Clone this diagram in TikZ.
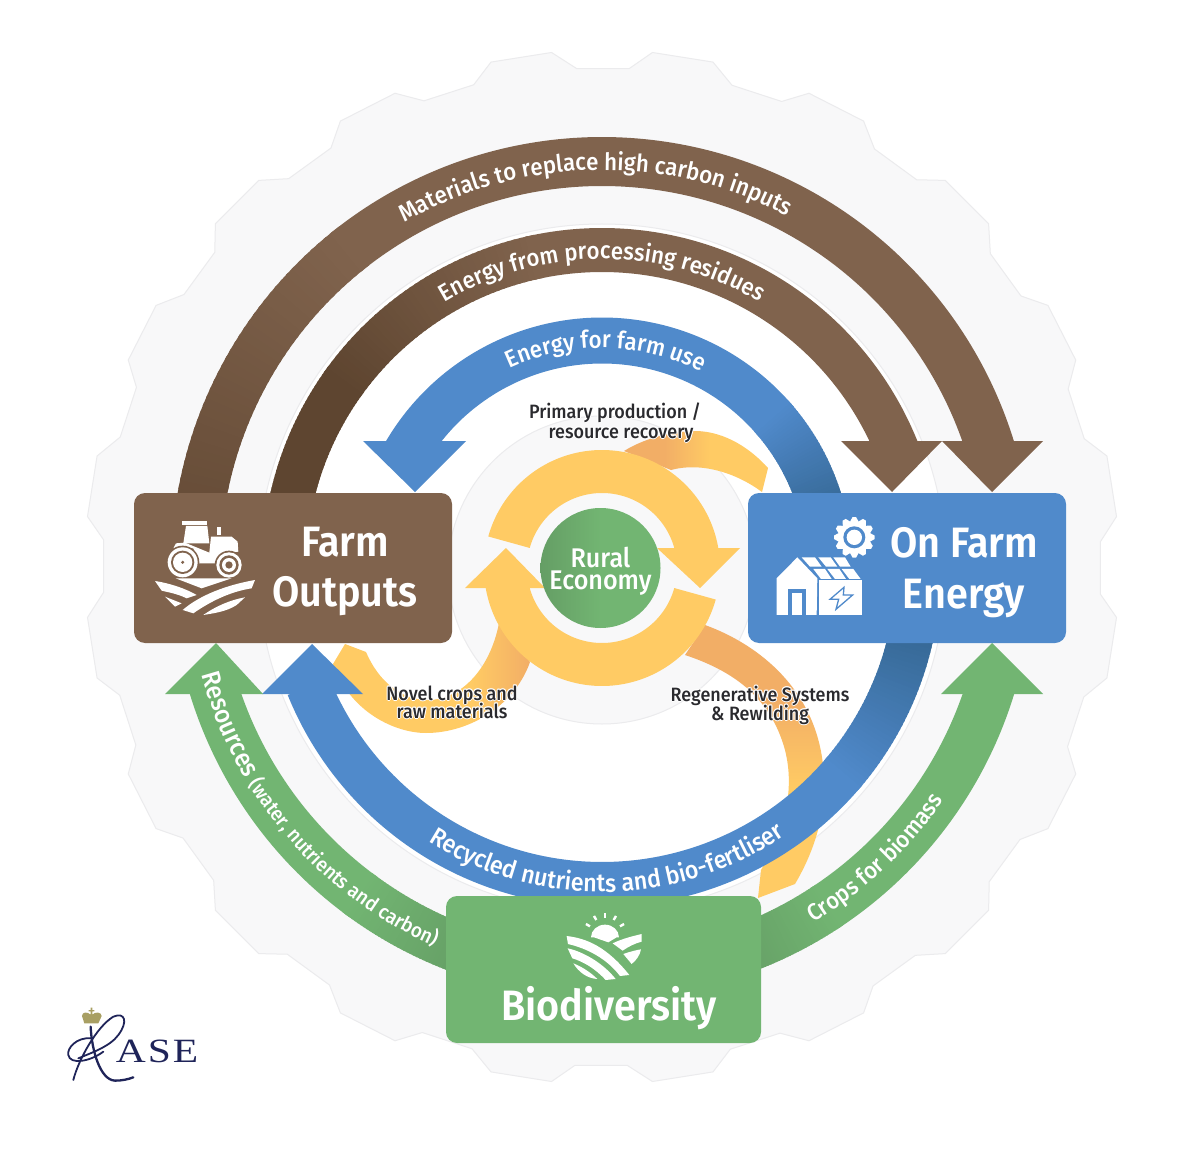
\documentclass[tikz,border=0pt]{standalone}
\usepackage{fontspec}
\usetikzlibrary{decorations.text}
\setmainfont{Fira Sans}
\newfontfamily\dinm{Fira Sans}[UprightFont=* Medium,FakeStretch=0.93]
\newfontfamily\dinb{Fira Sans}[UprightFont=* SemiBold,FakeStretch=0.93]
\newfontfamily\serifl{Liberation Serif}[FakeStretch=1.22,LetterSpace=6]
\definecolor{brownM}{HTML}{80634D}
\definecolor{brownD}{HTML}{5E4530}
\definecolor{brownE}{HTML}{664C37}
\definecolor{blueM}{HTML}{508ACB}
\definecolor{blueD}{HTML}{33648F}
\definecolor{greenM}{HTML}{72B572}
\definecolor{greenD}{HTML}{659E65}
\definecolor{yel}{HTML}{FFCB64}
\definecolor{ora}{HTML}{F2AE66}
\definecolor{gearF}{HTML}{F8F8F9}
\definecolor{gearL}{HTML}{EBEBED}
\definecolor{ink}{HTML}{2A2A2E}
\definecolor{navy}{HTML}{1F2459}
\definecolor{gold}{HTML}{A89F63}
\pgfdeclarehorizontalshading{linkTop}{100bp}{color(0bp)=(ora); color(39bp)=(ora); color(55bp)=(yel); color(100bp)=(yel)}
\pgfdeclarehorizontalshading{linkNovel}{100bp}{color(0bp)=(yel); color(60bp)=(yel); color(75bp)=(ora); color(100bp)=(ora)}
\pgfdeclareverticalshading{linkRegen}{100bp}{color(0bp)=(yel); color(45bp)=(yel); color(61bp)=(ora); color(100bp)=(ora)}
\pgfdeclarehorizontalshading{ruralS}{100bp}{color(0bp)=(greenD); color(25bp)=(greenD); color(50bp)=(greenM); color(100bp)=(greenM)}
\newcommand\Cx{602}
\newcommand\Cy{568}
% flat ring band
\newcommand\bandflat[5]{\fill[#5] plot[domain=#3:#4,samples=120] ({\Cx+#2*cos(\x)},{\Cy+#2*sin(\x)}) -- plot[domain=#4:#3,samples=120] ({\Cx+#1*cos(\x)},{\Cy+#1*sin(\x)}) -- cycle;}
% ring band with an angular colour blend
\newcommand\bandblend[6]{%
  \foreach \i in {0,...,39}{%
    \pgfmathsetmacro\pc{100*\i/39}%
    \pgfmathsetmacro\ta{#3+(#4-#3)*\i/40}%
    \pgfmathsetmacro\tb{#3+(#4-#3)*(\i+1.4)/40}%
    \fill[#6!\pc!#5] ({\Cx+#2*cos(\ta)},{\Cy+#2*sin(\ta)}) -- ({\Cx+#2*cos(\tb)},{\Cy+#2*sin(\tb)}) -- ({\Cx+#1*cos(\tb)},{\Cy+#1*sin(\tb)}) -- ({\Cx+#1*cos(\ta)},{\Cy+#1*sin(\ta)}) -- cycle;
  }}
% text on a circle of radius #1 from angle #2 to #3
\newcommand\arctext[4]{\path[decorate,decoration={text along path,text align=center,text={#4}}] plot[domain=#2:#3,samples=100] ({\Cx+#1*cos(\x)},{\Cy+#1*sin(\x)});}
\newcommand\fA{\dinm\fontsize{24}{24}\selectfont\color{white}}
\newcommand\fB{\dinm\fontsize{23.9}{24}\selectfont\color{white}}
\newcommand\fBB{\dinm\fontsize{24}{24}\selectfont\color{white}}
\newcommand\fR{\dinm\fontsize{25}{25}\selectfont\color{white}}
\newcommand\fS{\dinm\fontsize{26}{26}\selectfont\color{white}}
\newcommand\fC{\dinm\fontsize{20.2}{21}\selectfont\color{white}}
\newcommand\fE{\dinm\fontsize{23.5}{23}\selectfont\color{white}}
\tikzset{
  boxnode/.style={rounded corners=11pt,inner sep=0pt,outer sep=0pt,anchor=north west},
  title/.style={text=white,font=\dinb\fontsize{42.5}{42}\selectfont,inner sep=0pt,anchor=base},
  lbl/.style={font=\dinm\fontsize{19.3}{19}\selectfont,inner sep=0pt,anchor=base},
  icon/.style={fill=white,draw=none}
}
\newcommand\halo[4]{%
  \foreach \dx/\dy in {1/0,-1/0,0/1,0/-1,.7/.7,-.7/.7,.7/-.7,-.7/-.7}{%
    \node[lbl,text=white,xshift=\dx pt,yshift=\dy pt] at (#2,#3) {#4};}%
  \node[lbl,text=ink] (#1) at (#2,#3) {#4};}
\begin{document}
\begin{tikzpicture}[x=1pt,y=-1pt]
\useasboundingbox (0,0) rectangle (1200,1150);
\fill[white] (0,0) rectangle (1200,1150);
% scalloped background
\filldraw[fill=gearF,draw=gearL,line width=1pt]
  ({602+517*cos(246.4)},{567+517*sin(246.4)})
  \foreach \k in {0,-18,...,-342}{
    -- ({602+517*cos(246.4+\k)},{567+517*sin(246.4+\k)})
    -- ({602+517*cos(239.6+\k)},{567+517*sin(239.6+\k)})
    -- ({602+499*cos(237.1+\k)},{567+499*sin(237.1+\k)})
    -- ({602+499*cos(231.1+\k)},{567+499*sin(231.1+\k)})
  } -- cycle;
\filldraw[fill=white,draw=gearL,line width=1pt] (602,568) circle (344);
\filldraw[fill=gearF,draw=gearL,line width=1pt] (602,570) circle (154);
% linking bands
\shade[shading=linkTop] (624,451) .. controls (650,435) and (680,431) .. (697,431) .. controls (725,432) and (750,448) .. (768,468) -- (762,492) .. controls (735,472) and (700,462) .. (671,470) -- cycle;
\shade[shading=linkNovel] (345,644) -- (333,664) .. controls (350,712) and (395,733) .. (426,733) .. controls (470,733) and (515,705) .. (530,662) -- (499,623) .. controls (490,670) and (460,700) .. (428,700) .. controls (400,700) and (378,680) .. (366,652) -- cycle;
\shade[shading=linkRegen] (705,625) .. controls (760,645) and (815,690) .. (823,765) .. controls (828,810) and (815,850) .. (795,884) -- (758,898) -- (761,870) .. controls (785,830) and (795,790) .. (785,750) .. controls (770,695) and (730,670) .. (685,655) -- cycle;
% central yellow loop
\bandflat{75}{118}{195.5}{352}{yel}
\fill[yel] (657,548) -- (740,548) -- (700,588) -- cycle;
\bandflat{75}{118}{15.5}{172}{yel}
\fill[yel] (465,588) -- (545,588) -- (506,548) -- cycle;
% blue arrows
\bandflat{204.5}{250.5}{210.5}{320}{blueM}
\bandblend{204.5}{250.5}{318}{350}{blueM}{blueD}
\fill[blueM] (363,441) -- (466,441) -- (415,492) -- cycle;
\bandflat{294}{339}{40}{158}{blueM}
\bandblend{294}{339}{41}{8}{blueM}{blueD}
\fill[blueM] (262,694) -- (363,694) -- (312,644) -- cycle;
% brown arrows
\bandblend{382}{431}{186}{232}{brownE}{brownM}
\bandflat{382}{431}{231}{344}{brownM}
\fill[brownM] (942,441) -- (1043,441) -- (992,492) -- cycle;
\bandblend{296}{340}{186}{216}{brownD}{brownD}
\bandblend{296}{340}{215}{258}{brownD}{brownM}
\bandflat{296}{340}{257}{339}{brownM}
\fill[brownM] (841,441) -- (942,441) -- (892,492) -- cycle;
% green arrows
\bandflat{382}{431}{126}{164}{greenM}
\bandblend{382}{431}{127}{108}{greenM}{greenD}
\fill[greenM] (165,694) -- (263,694) -- (216,643) -- cycle;
\bandflat{382}{431}{16}{57}{greenM}
\bandblend{382}{431}{56}{72}{greenM}{greenD}
\fill[greenM] (941,694) -- (1043,694) -- (992,643) -- cycle;
% curved labels
\arctext{398}{224}{314}{|\fA|Materials to replace high carbon inputs}
\arctext{309}{225}{315}{|\fB|Energy from processing residues}
\arctext{220}{226}{316}{|\fBB|Energy for farm use}
\arctext{324}{134}{44}{|\fR|Recycled nutrients and bio-fertliser}
\arctext{414}{179.5}{99.5}{|\fS|Resources ||{}|\fC|(water, nutrients and carbon)}
\arctext{413}{84.2}{9.2}{|\fE|Crops for biomass}
% boxes
\node[boxnode,fill=brownM,minimum width=318pt,minimum height=150pt] (farm) at (134,493) {};
\node[boxnode,fill=blueM,minimum width=318pt,minimum height=150pt] (energy) at (748,493) {};
\node[boxnode,fill=greenM,minimum width=315pt,minimum height=147pt] (biodiv) at (446,896) {};
\shade[shading=ruralS] (600.5,568) circle (60);
\node[inner sep=0pt,anchor=base] (rural) at (600.5,567) {\dinm\fontsize{27}{27}\selectfont\color{white}Rural};
\node[inner sep=0pt,anchor=base] (economy) at (600.5,589) {\dinm\fontsize{27}{27}\selectfont\color{white}Economy};
\node[title] (farmA) at (345,556) {Farm};
\node[title] (farmB) at (345,606) {Outputs};
\node[title] (enerA) at (964,557) {On Farm};
\node[title] (enerB) at (964,608) {Energy};
\node[title] (bio) at (609,1020) {Biodiversity};
\halo{lblA}{615}{418}{Primary production /}
\halo{lblB}{621}{438}{resource recovery}
\halo{lblC}{452}{700}{Novel crops and}
\halo{lblD}{452}{718}{raw materials}
\halo{lblE}{760}{701}{Regenerative Systems}
\halo{lblF}{760}{720}{\& Rewilding}
% tractor icon
\begin{scope}[shift={(130pt,-480pt)},x=.3333pt,y=-.3333pt]
\fill[icon] (157,123) rectangle (232,134);
\fill[icon] (168,138) -- (232,138) -- (238,190) -- (160,190) -- cycle;
\fill[icon] (262,140) rectangle (272,165);
\fill[icon] (138,190) -- (165,188) -- (238,218) -- (243,170) -- (305,170) -- (323,185) -- (325,215) -- (280,222) -- (255,250) -- (205,250) -- (190,205) -- (130,205) -- cycle;
\foreach \wx/\wy/\wa/\wb/\wc/\wd in {158/247/45/35/29/5,297/255/38/29/21/11}{
  \fill[brownM] (\wx,\wy) circle (\wa+5);
  \fill[white] (\wx,\wy) circle (\wa);
  \fill[brownM] (\wx,\wy) circle (\wb);
  \fill[white] (\wx,\wy) circle (\wc);
  \fill[brownM] (\wx,\wy) circle (\wd);
}
\fill[icon] (137,295) -- (305,295) -- (215,325) -- cycle;
\fill[icon] (75,303) .. controls (120,310) and (165,325) .. (200,345) -- (170,355) .. controls (140,340) and (105,335) .. (95,332) -- cycle;
\fill[icon] (375,300) -- (365,325) .. controls (300,335) and (240,365) .. (190,400) -- (158,390) .. controls (210,345) and (290,315) .. (375,300) -- cycle;
\fill[icon] (105,350) -- (155,370) -- (135,380) -- cycle;
\fill[icon] (345,352) -- (320,375) .. controls (290,395) and (250,400) .. (220,405) .. controls (255,380) and (300,360) .. (345,352) -- cycle;
\end{scope}
% house and sun icon
\begin{scope}[shift={(740pt,-480pt)},x=.3333pt,y=-.3333pt]
\fill[icon] (110,295) -- (172,232) -- (232,295) -- (230,405) -- (110,405) -- cycle;
\fill[blueM] (145,328) rectangle (197,405);
\fill[icon] (155,338) rectangle (187,405);
\fill[icon] (238,300) rectangle (367,405);
\fill[icon] (185,232) -- (225,232) -- (245,260) -- (210,260) -- cycle;
\fill[icon] (235,232) -- (272,232) -- (292,260) -- (258,260) -- cycle;
\fill[icon] (280,232) -- (315,232) -- (332,260) -- (300,260) -- cycle;
\fill[icon] (220,267) -- (255,267) -- (275,297) -- (243,297) -- cycle;
\fill[icon] (262,267) -- (298,267) -- (318,297) -- (285,297) -- cycle;
\fill[icon] (305,267) -- (340,267) -- (362,297) -- (328,297) -- cycle;
\filldraw[fill=white,draw=blueM,line width=1.3pt] (312,322) -- (270,358) -- (296,358) -- (288,388) -- (338,345) -- (310,345) -- cycle;
\fill[icon] ({343+61*cos(-5)},{172+61*sin(-5)})
  \foreach \a in {0,30,...,330}{
    -- ({343+61*cos(\a-5)},{172+61*sin(\a-5)})
    -- ({343+61*cos(\a+5)},{172+61*sin(\a+5)})
    -- ({343+49*cos(\a+15)},{172+49*sin(\a+15)})
  } -- cycle;
\fill[blueM] (343,172) circle (33);
\fill[white] (343,172) circle (23);
\end{scope}
% field and sun icon
\begin{scope}[shift={(440pt,-880pt)},x=.3333pt,y=-.3333pt]
\fill[icon] (453,172) arc (180:360:42 and 38) -- (530,172) -- (505,187) -- (462,172) -- cycle;
\foreach \a in {210,240,270,300,330}{
  \draw[white,line width=2.4pt] ({495+52*cos(\a)},{165+52*sin(\a)}) -- ({495+66*cos(\a)},{165+66*sin(\a)});
}
\fill[icon] (380,168) .. controls (440,175) and (500,200) .. (568,285) -- (540,288) .. controls (500,235) and (440,205) .. (384,192) -- cycle;
\fill[icon] (518,190) .. controls (550,175) and (580,168) .. (605,162) -- (605,185) .. controls (585,190) and (565,200) .. (548,212) -- cycle;
\fill[icon] (550,222) .. controls (570,215) and (590,210) .. (603,208) .. controls (600,225) and (590,240) .. (575,252) -- cycle;
\fill[icon] (383,205) .. controls (430,215) and (490,250) .. (527,297) -- (497,300) .. controls (465,265) and (430,245) .. (397,235) -- cycle;
\fill[icon] (400,250) .. controls (430,262) and (455,280) .. (472,297) .. controls (440,295) and (415,275) .. (400,250) -- cycle;
\end{scope}
% logo
\node[inner sep=0pt,text=navy,anchor=base] (rase) at (157,1062) {\serifl\fontsize{34}{34}\selectfont ASE};
\begin{scope}[shift={(50pt,-990pt)},x=.3333pt,y=-.3333pt]
\draw[navy,line width=1.8pt,line cap=round] (70,270) .. controls (85,210) and (140,110) .. (190,80) .. controls (225,65) and (235,95) .. (205,135) .. controls (180,170) and (120,190) .. (85,205);
\draw[navy,line width=1.8pt,line cap=round] (125,145) .. controls (80,140) and (50,175) .. (55,195) .. controls (60,225) and (120,215) .. (160,185);
\draw[navy,line width=2.3pt,line cap=round] (122,110) .. controls (125,180) and (150,270) .. (195,272) .. controls (215,272) and (235,268) .. (250,262);
\fill[gold] (103,100) -- (96,78) .. controls (96,65) and (113,65) .. (122,74) -- (122,64) -- (116,64) -- (116,60) -- (122,60) -- (122,53) -- (127,53) -- (127,60) -- (133,60) -- (133,64) -- (127,64) -- (127,74) .. controls (135,65) and (154,65) .. (155,78) -- (145,100) -- cycle;
\end{scope}
\end{tikzpicture}
\end{document}
